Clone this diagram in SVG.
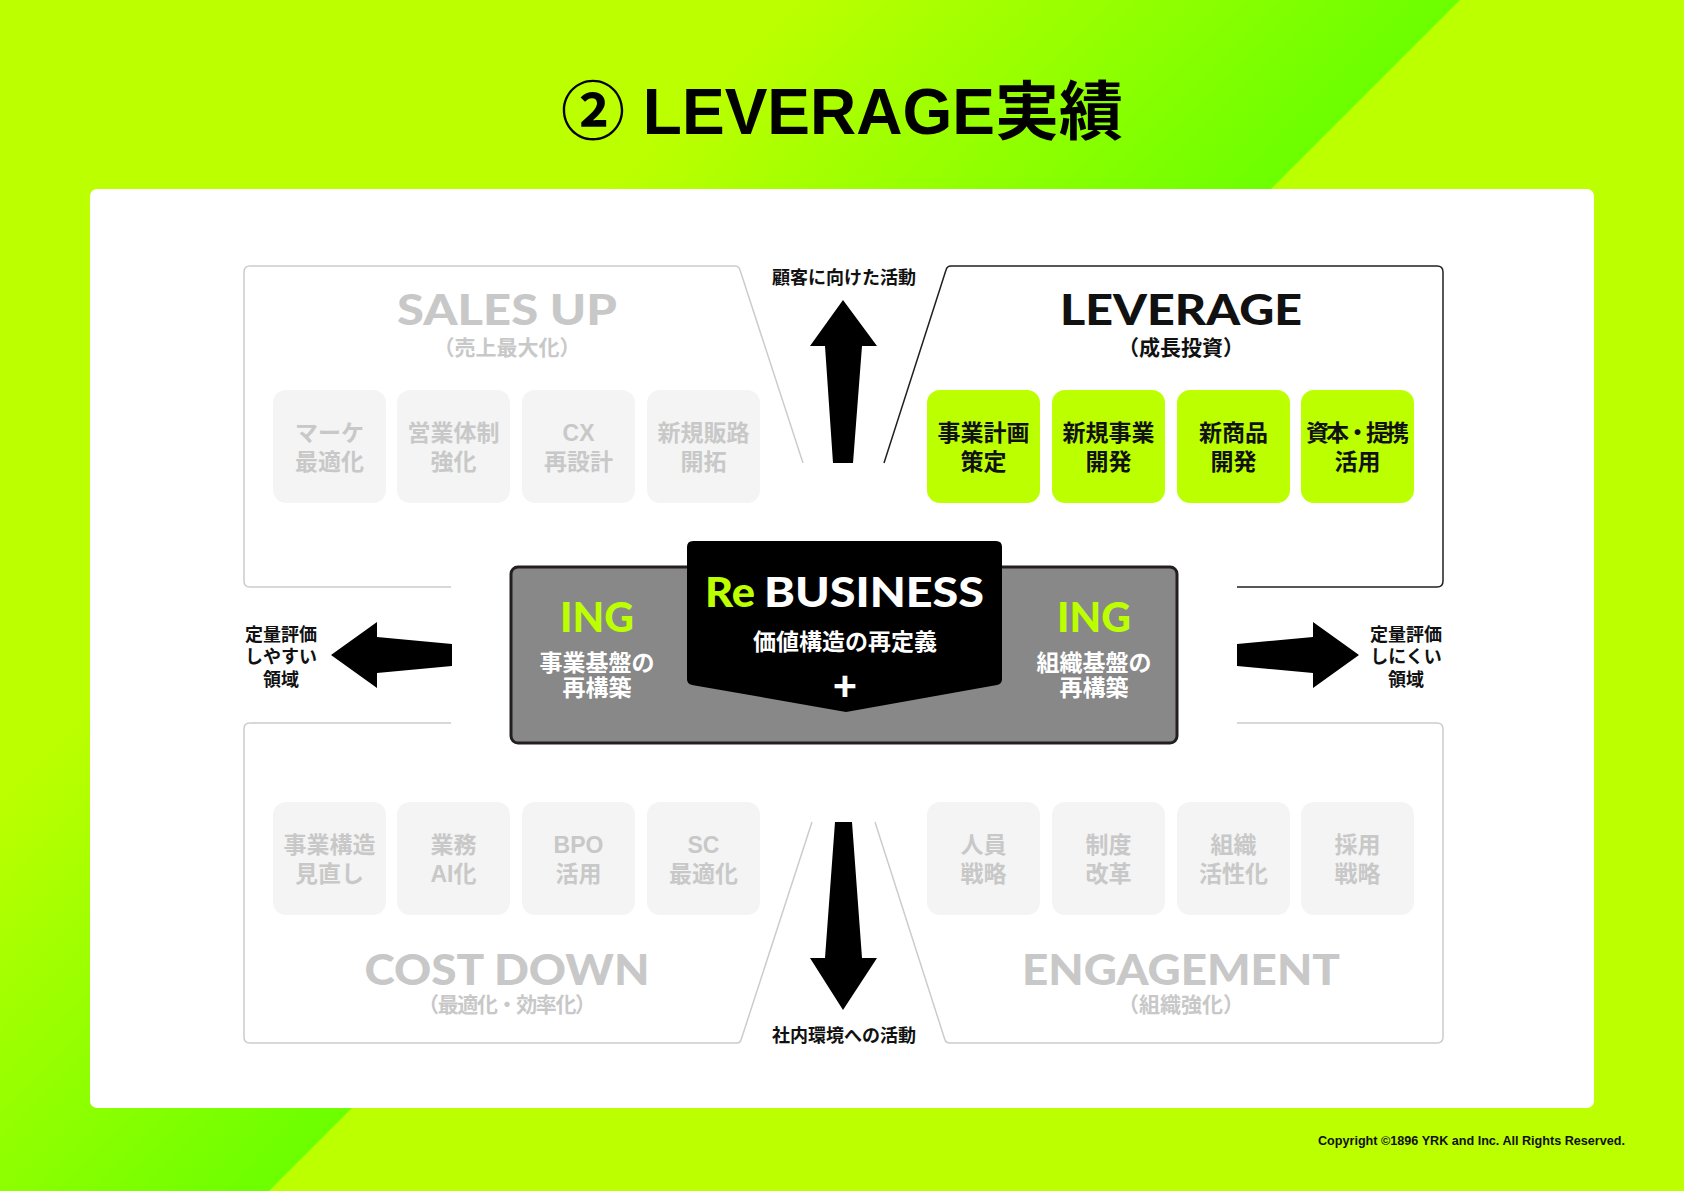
<svg xmlns="http://www.w3.org/2000/svg" width="1684" height="1191" viewBox="0 0 1684 1191">
  <defs>
    <linearGradient id="bgGrad" gradientUnits="userSpaceOnUse" x1="400" y1="400" x2="730" y2="730">
      <stop offset="0" stop-color="#bbff00"/>
      <stop offset="1" stop-color="#6cff00"/>
    </linearGradient>
    <style>
      .jp { font-family: "Liberation Sans", "Noto Sans CJK JP", sans-serif; font-weight: 700; }
      .disp { font-family: "Lato", "Liberation Sans", sans-serif; font-weight: 900; }
      .gbox { fill: #f4f4f4; }
      .lbox { fill: #bbff00; }
      .gtxt { fill: #c8c8c8; font-size: 23px; text-anchor: middle; }
      .ktxt { fill: #111111; font-size: 23px; text-anchor: middle; }
      .wtxt { fill: #ffffff; font-size: 23px; text-anchor: middle; }
      .gline { fill: none; stroke: #cccccc; stroke-width: 1.5; }
      .kline { fill: none; stroke: #231f20; stroke-width: 1.5; }
      .arrow { fill: #000000; }
      .lbl { fill: #111111; font-size: 18px; text-anchor: middle; }
      .sub { font-size: 21px; text-anchor: middle; }
    </style>
  </defs>

  <!-- background -->
  <rect x="0" y="0" width="1684" height="1191" fill="#bbff00"/>
  <polygon points="0,0 1460,0 269,1191 0,1191" fill="url(#bgGrad)"/>

  <!-- title -->
  <text class="jp" x="842" y="134" font-size="64" text-anchor="middle" fill="#000">② LEVERAGE実績</text>

  <!-- white board -->
  <rect x="90" y="189" width="1504" height="919" rx="7" fill="#ffffff"/>

  <!-- connectors / frames -->
  <g id="connectors">
    <path class="gline" d="M451,587 H250 Q244,587 244,581 V272 Q244,266 250,266 H735 Q739,266 740,270 L803,463"/>
    <path class="kline" d="M884,463 L946,270 Q947,266 951,266 H1437 Q1443,266 1443,272 V581 Q1443,587 1437,587 H1237"/>
    <path class="gline" d="M451,723 H250 Q244,723 244,729 V1037 Q244,1043 250,1043 H737 Q740,1043 741,1040 L812,822"/>
    <path class="gline" d="M1237,723 H1437 Q1443,723 1443,729 V1037 Q1443,1043 1437,1043 H950 Q946,1043 945,1040 L875,822"/>

    <polygon class="arrow" points="843,300 877,346 862,346 853,463 833,463 825,346 810,346"/>
    <polygon class="arrow" points="835,822 852,822 862,958 877,958 843,1010 810,958 825,958"/>
    <polygon class="arrow" points="331,655 377,622 377,637 452,644 452,666 377,673 377,688"/>
    <polygon class="arrow" points="1359,655 1313,622 1313,637 1237,644 1237,666 1313,673 1313,688"/>

    <text class="jp lbl" x="844" y="284">顧客に向けた活動</text>
    <text class="jp lbl" x="844" y="1042">社内環境への活動</text>
    <text class="jp lbl" x="281" y="641">定量評価</text>
    <text class="jp lbl" x="281" y="663">しやすい</text>
    <text class="jp lbl" x="281" y="686">領域</text>
    <text class="jp lbl" x="1406" y="641">定量評価</text>
    <text class="jp lbl" x="1406" y="663">しにくい</text>
    <text class="jp lbl" x="1406" y="686">領域</text>
  </g>

  <!-- SALES UP -->
  <g id="sales-up">
    <text class="disp" x="507" y="325" font-size="42" text-anchor="middle" fill="#c8c8c8" textLength="220" lengthAdjust="spacingAndGlyphs">SALES UP</text>
    <text class="jp sub" x="507" y="355" fill="#c8c8c8" font-weight="500">（売上最大化）</text>
  </g>
  <g id="su-1"><rect class="gbox" x="273" y="390" width="113" height="113" rx="13"/><text class="jp gtxt" x="329.5" y="441">マーケ</text><text class="jp gtxt" x="329.5" y="470">最適化</text></g>
  <g id="su-2"><rect class="gbox" x="397" y="390" width="113" height="113" rx="13"/><text class="jp gtxt" x="453.5" y="441">営業体制</text><text class="jp gtxt" x="453.5" y="470">強化</text></g>
  <g id="su-3"><rect class="gbox" x="522" y="390" width="113" height="113" rx="13"/><text class="jp gtxt" x="578.5" y="441">CX</text><text class="jp gtxt" x="578.5" y="470">再設計</text></g>
  <g id="su-4"><rect class="gbox" x="647" y="390" width="113" height="113" rx="13"/><text class="jp gtxt" x="703.5" y="441">新規販路</text><text class="jp gtxt" x="703.5" y="470">開拓</text></g>

  <!-- LEVERAGE -->
  <g id="leverage">
    <text class="disp" x="1181" y="325" font-size="42" text-anchor="middle" fill="#111" textLength="242" lengthAdjust="spacingAndGlyphs">LEVERAGE</text>
    <text class="jp sub" x="1181" y="355" fill="#111">（成長投資）</text>
  </g>
  <g id="lv-1"><rect class="lbox" x="927" y="390" width="113" height="113" rx="13"/><text class="jp ktxt" x="983.5" y="441">事業計画</text><text class="jp ktxt" x="983.5" y="470">策定</text></g>
  <g id="lv-2"><rect class="lbox" x="1052" y="390" width="113" height="113" rx="13"/><text class="jp ktxt" x="1108.5" y="441">新規事業</text><text class="jp ktxt" x="1108.5" y="470">開発</text></g>
  <g id="lv-3"><rect class="lbox" x="1177" y="390" width="113" height="113" rx="13"/><text class="jp ktxt" x="1233.5" y="441">新商品</text><text class="jp ktxt" x="1233.5" y="470">開発</text></g>
  <g id="lv-4"><rect class="lbox" x="1301" y="390" width="113" height="113" rx="13"/><text class="jp ktxt" x="1357.5" y="441" textLength="103" lengthAdjust="spacing">資本・提携</text><text class="jp ktxt" x="1357.5" y="470">活用</text></g>

  <!-- center -->
  <g id="rebusiness">
    <rect x="511" y="567" width="666" height="176" rx="7" fill="#888888" stroke="#231f20" stroke-width="3"/>
    <path d="M693,541 H996 Q1002,541 1002,547 V679 Q1002,684 997,685 L846,712 L692,685 Q687,684 687,679 V547 Q687,541 693,541 Z" fill="#000000"/>
    <text class="disp" x="705" y="607" font-size="41" fill="#bbff00" textLength="50" lengthAdjust="spacingAndGlyphs">Re</text>
    <text class="disp" x="764" y="607" font-size="41" fill="#ffffff" textLength="220" lengthAdjust="spacingAndGlyphs">BUSINESS</text>
    <text class="jp wtxt" x="845" y="650">価値構造の再定義</text>
    <text class="disp" x="845" y="700" font-size="42" text-anchor="middle" fill="#ffffff">+</text>
    <text class="disp" x="597" y="632" font-size="41" text-anchor="middle" fill="#bbff00">ING</text>
    <text class="jp wtxt" x="597" y="671">事業基盤の</text>
    <text class="jp wtxt" x="597" y="696">再構築</text>
    <text class="disp" x="1094" y="632" font-size="41" text-anchor="middle" fill="#bbff00">ING</text>
    <text class="jp wtxt" x="1094" y="671">組織基盤の</text>
    <text class="jp wtxt" x="1094" y="696">再構築</text>
  </g>

  <!-- COST DOWN -->
  <g id="cd-1"><rect class="gbox" x="273" y="802" width="113" height="113" rx="13"/><text class="jp gtxt" x="329.5" y="853">事業構造</text><text class="jp gtxt" x="329.5" y="882">見直し</text></g>
  <g id="cd-2"><rect class="gbox" x="397" y="802" width="113" height="113" rx="13"/><text class="jp gtxt" x="453.5" y="853">業務</text><text class="jp gtxt" x="453.5" y="882">AI化</text></g>
  <g id="cd-3"><rect class="gbox" x="522" y="802" width="113" height="113" rx="13"/><text class="jp gtxt" x="578.5" y="853">BPO</text><text class="jp gtxt" x="578.5" y="882">活用</text></g>
  <g id="cd-4"><rect class="gbox" x="647" y="802" width="113" height="113" rx="13"/><text class="jp gtxt" x="703.5" y="853">SC</text><text class="jp gtxt" x="703.5" y="882">最適化</text></g>
  <g id="cost-down">
    <text class="disp" x="507" y="985" font-size="42" text-anchor="middle" fill="#c8c8c8" textLength="285" lengthAdjust="spacingAndGlyphs">COST DOWN</text>
    <text class="jp sub" x="507" y="1012" fill="#c8c8c8" font-weight="500" textLength="178" lengthAdjust="spacing">（最適化・効率化）</text>
  </g>

  <!-- ENGAGEMENT -->
  <g id="en-1"><rect class="gbox" x="927" y="802" width="113" height="113" rx="13"/><text class="jp gtxt" x="983.5" y="853">人員</text><text class="jp gtxt" x="983.5" y="882">戦略</text></g>
  <g id="en-2"><rect class="gbox" x="1052" y="802" width="113" height="113" rx="13"/><text class="jp gtxt" x="1108.5" y="853">制度</text><text class="jp gtxt" x="1108.5" y="882">改革</text></g>
  <g id="en-3"><rect class="gbox" x="1177" y="802" width="113" height="113" rx="13"/><text class="jp gtxt" x="1233.5" y="853">組織</text><text class="jp gtxt" x="1233.5" y="882">活性化</text></g>
  <g id="en-4"><rect class="gbox" x="1301" y="802" width="113" height="113" rx="13"/><text class="jp gtxt" x="1357.5" y="853">採用</text><text class="jp gtxt" x="1357.5" y="882">戦略</text></g>
  <g id="engagement">
    <text class="disp" x="1181" y="985" font-size="42" text-anchor="middle" fill="#c8c8c8" textLength="318" lengthAdjust="spacingAndGlyphs">ENGAGEMENT</text>
    <text class="jp sub" x="1181" y="1012" fill="#c8c8c8" font-weight="500">（組織強化）</text>
  </g>

  <!-- footer -->
  <text class="jp" x="1625" y="1145" font-size="12" text-anchor="end" fill="#111" textLength="307" lengthAdjust="spacingAndGlyphs">Copyright ©1896 YRK and Inc. All Rights Reserved.</text>
</svg>
